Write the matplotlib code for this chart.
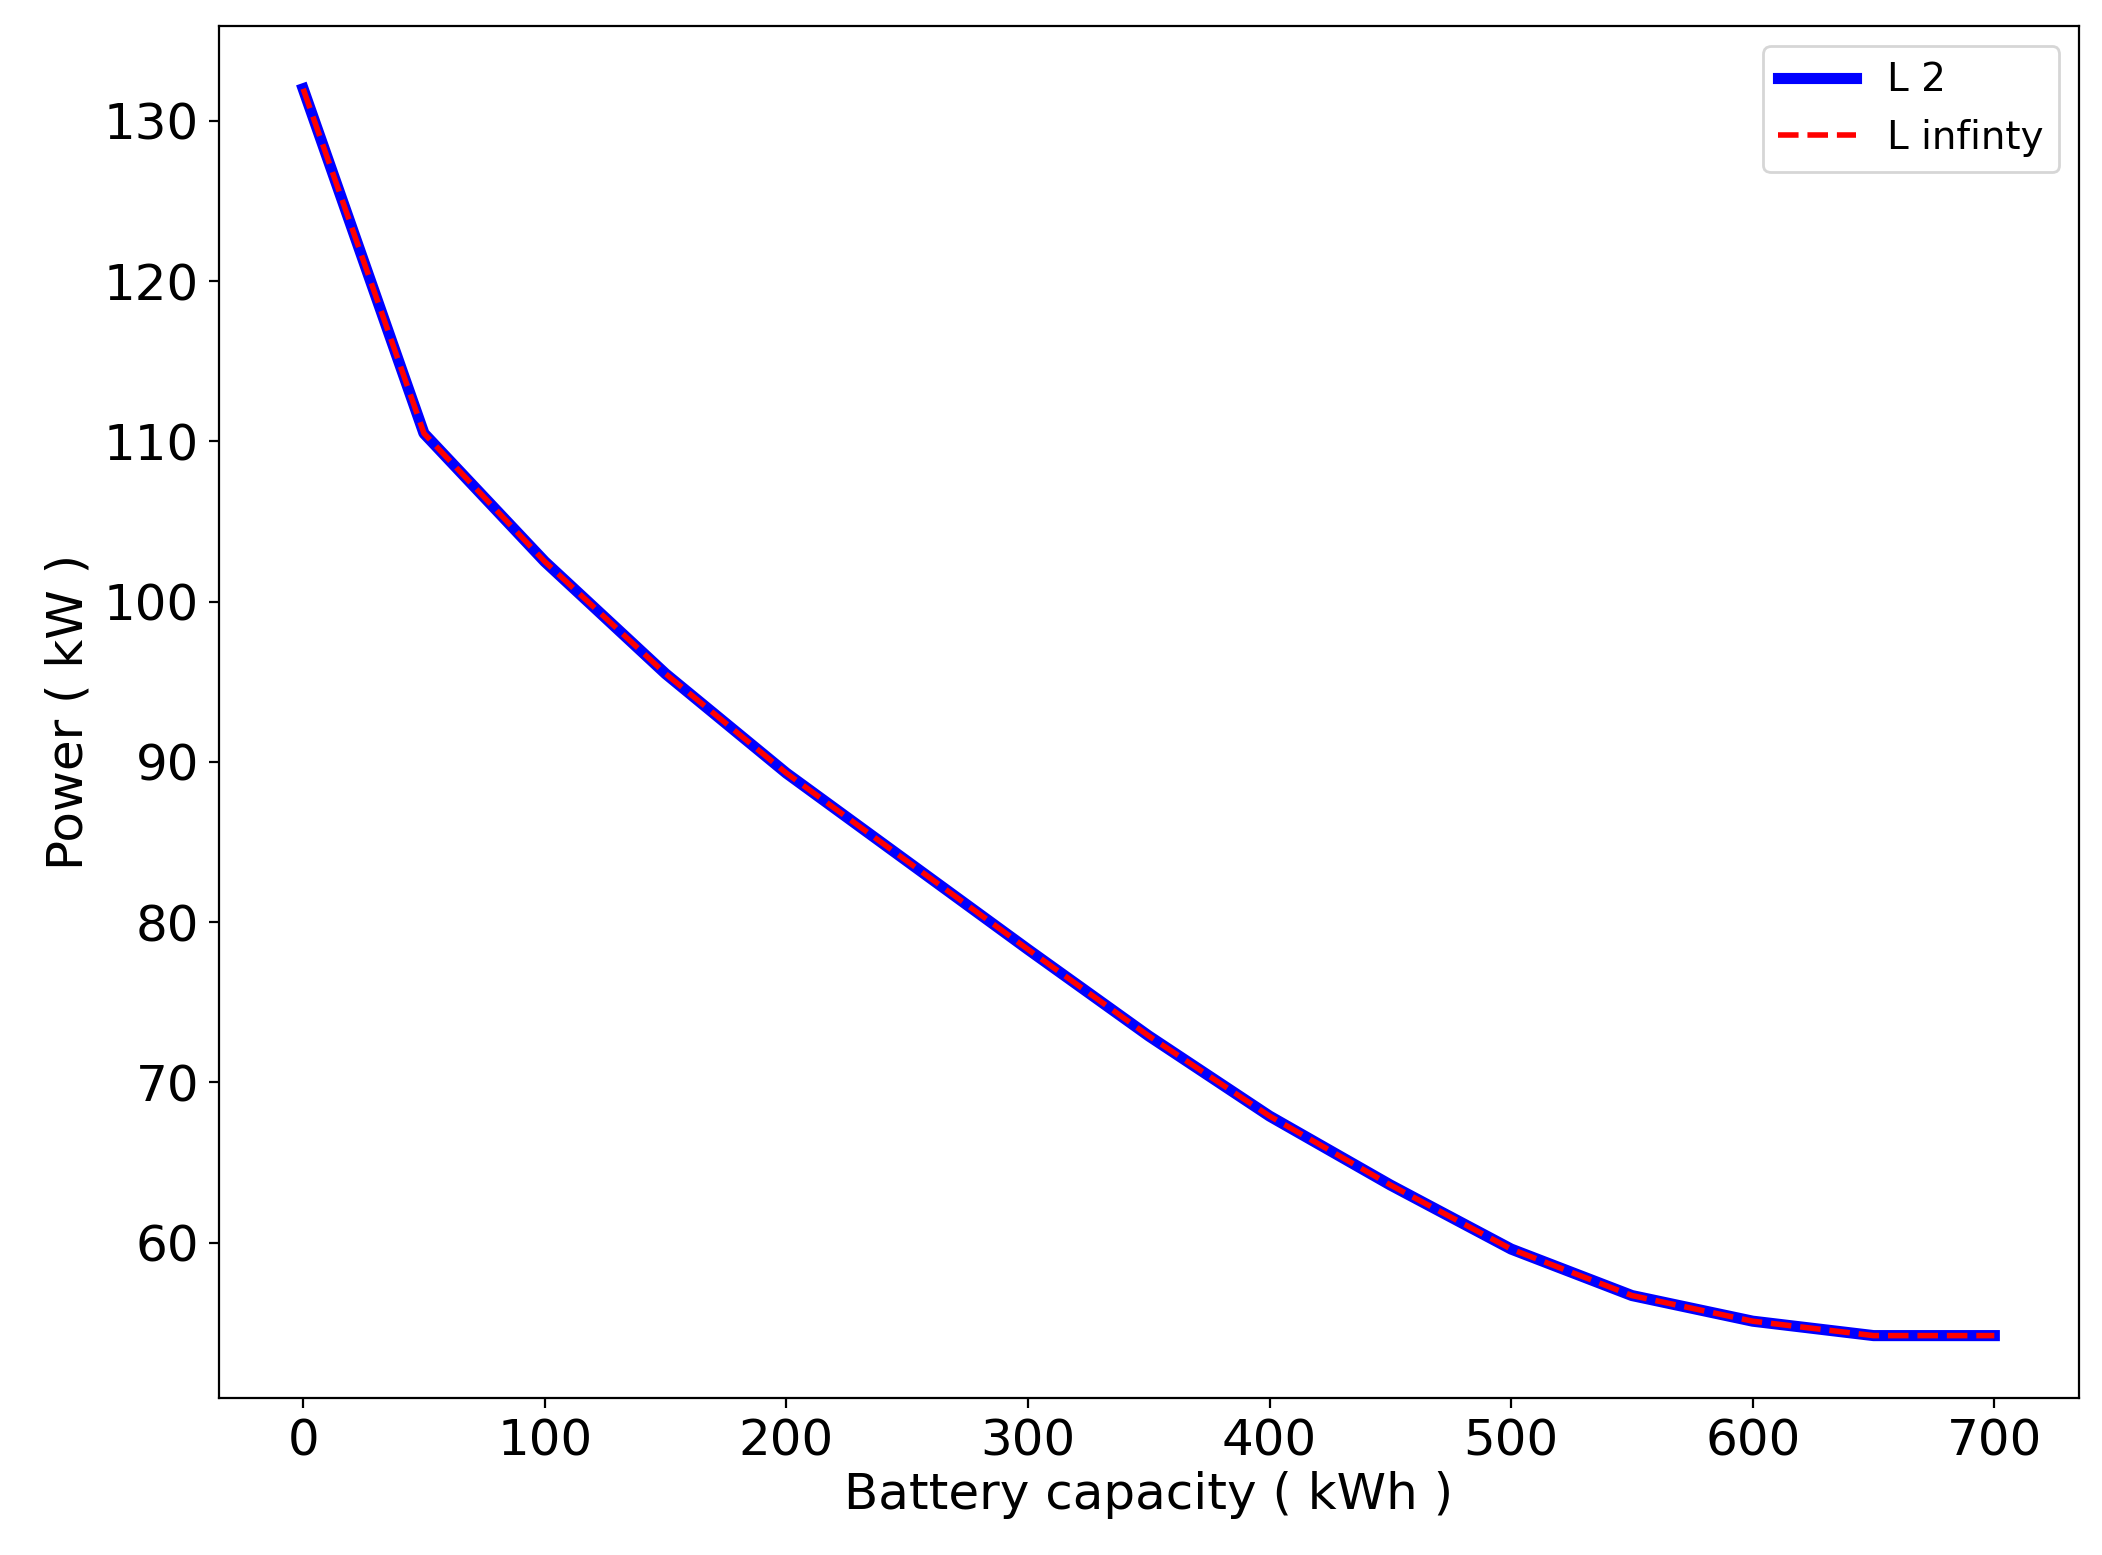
import numpy as np
import matplotlib
matplotlib.use('Agg')
import matplotlib.pyplot as plt

capacity = [0, 50, 100, 150, 200, 250, 300, 350, 400, 450, 500, 550, 600, 650, 700]
power_l2 = [132.0, 110.5, 102.5, 95.5, 89.3, 83.8, 78.3, 72.9, 67.9, 63.6, 59.6, 56.7, 55.1, 54.2, 54.2]
power_linf = list(power_l2)

fig = plt.figure(figsize=(10.51, 7.775), dpi=200)
ax = fig.add_axes([0.104, 0.101, 0.885, 0.882])

ax.plot(capacity, power_l2, color='blue', lw=4, label='L 2')
ax.plot(capacity, power_linf, color='red', lw=2, ls='--', label='L infinty')

ax.set_xlabel('Battery capacity ( kWh )', fontsize=18, labelpad=2)
ax.set_ylabel('Power ( kW )', fontsize=18)
ax.tick_params(labelsize=18)
ax.set_xticks(range(0, 701, 100))
ax.set_yticks(range(60, 131, 10))
ax.legend(fontsize=14, loc='upper right')

fig.savefig('out.png', dpi=200)
